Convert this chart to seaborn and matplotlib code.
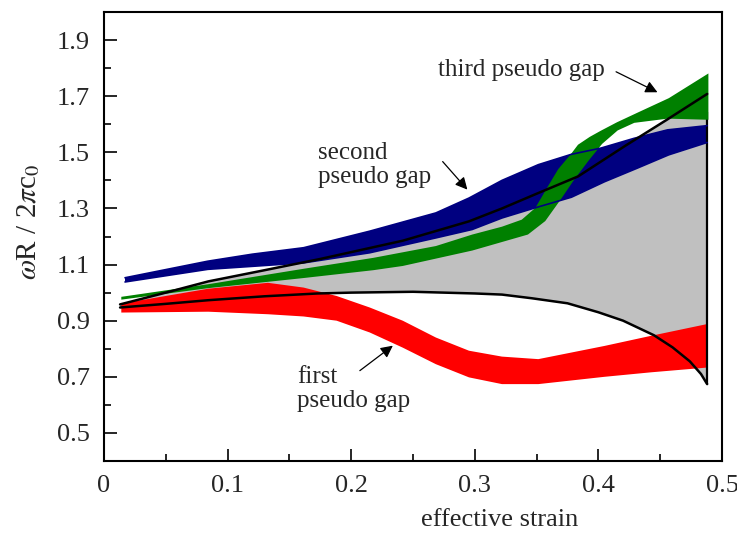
import numpy as np
import pandas as pd
import matplotlib
matplotlib.use('Agg')
import matplotlib.pyplot as plt
import seaborn as sns

# band edges (effective strain, omega R / 2 pi c0)
upper_x = [0.013, 0.05, 0.0844, 0.13, 0.175, 0.2417, 0.2953, 0.322, 0.3514, 0.3835, 0.422, 0.455, 0.488]
upper_y = [0.958, 1.0, 1.04, 1.08, 1.12, 1.185, 1.254, 1.30, 1.355, 1.414, 1.524, 1.615, 1.708]

lower_x = [0.013, 0.05, 0.0844, 0.13, 0.173, 0.2, 0.25, 0.3, 0.322, 0.346, 0.375, 0.40, 0.42, 0.445, 0.46, 0.474, 0.483, 0.488]
lower_y = [0.947, 0.96, 0.973, 0.987, 0.997, 1.0, 1.003, 0.997, 0.993, 0.98, 0.962, 0.93, 0.90, 0.848, 0.805, 0.755, 0.71, 0.674]

red_top_x = [0.014, 0.0844, 0.1326, 0.1615, 0.1882, 0.215, 0.2417, 0.2685, 0.2953, 0.322, 0.3514, 0.4049, 0.4425, 0.488]
red_top_y = [0.961, 1.014, 1.035, 1.018, 0.988, 0.947, 0.90, 0.84, 0.793, 0.772, 0.763, 0.81, 0.846, 0.888]
red_bot_x = [0.014, 0.0844, 0.1326, 0.1615, 0.1882, 0.215, 0.2417, 0.2685, 0.2953, 0.322, 0.3514, 0.4049, 0.4425, 0.488]
red_bot_y = [0.929, 0.932, 0.923, 0.915, 0.90, 0.858, 0.804, 0.745, 0.698, 0.674, 0.674, 0.70, 0.716, 0.733]

blue_top_x = [0.017, 0.084, 0.12, 0.1615, 0.215, 0.2685, 0.2953, 0.322, 0.3514, 0.3782, 0.402, 0.429, 0.456, 0.488]
blue_top_y = [1.053, 1.112, 1.137, 1.16, 1.219, 1.284, 1.337, 1.40, 1.456, 1.493, 1.515, 1.55, 1.58, 1.595]
blue_bot_x = [0.017, 0.084, 0.1615, 0.215, 0.2685, 0.2979, 0.322, 0.3487, 0.3782, 0.4049, 0.4317, 0.4569, 0.488]
blue_bot_y = [1.038, 1.083, 1.106, 1.142, 1.195, 1.225, 1.266, 1.302, 1.34, 1.395, 1.444, 1.491, 1.535]

green_top_x = [0.014, 0.0844, 0.1615, 0.218, 0.2685, 0.298, 0.322, 0.338, 0.349, 0.358, 0.3675, 0.378, 0.3835, 0.393, 0.402, 0.415, 0.432, 0.457, 0.489]
green_top_y = [0.985, 1.03, 1.085, 1.124, 1.166, 1.207, 1.235, 1.26, 1.302, 1.37, 1.44, 1.495, 1.527, 1.555, 1.577, 1.607, 1.642, 1.693, 1.781]
green_bot_x = [0.014, 0.0844, 0.1615, 0.218, 0.2417, 0.298, 0.343, 0.357, 0.37, 0.38, 0.392, 0.403, 0.4156, 0.429, 0.456, 0.489]
green_bot_y = [0.975, 1.016, 1.052, 1.08, 1.095, 1.15, 1.207, 1.255, 1.335, 1.40, 1.47, 1.53, 1.578, 1.605, 1.62, 1.616]

x_ticks = [0, 0.1, 0.2, 0.3, 0.4, 0.5]
x_labels = ['0', '0.1', '0.2', '0.3', '0.4', '0.5']
y_ticks = [0.5, 0.7, 0.9, 1.1, 1.3, 1.5, 1.7, 1.9]

sns.set_theme(style='white')
plt.rcParams['font.family'] = ['Liberation Serif', 'DejaVu Serif']
plt.rcParams['mathtext.fontset'] = 'stix'

fig = plt.figure(figsize=(7.37, 5.35), dpi=100)
ax = fig.add_axes([104 / 737, 74 / 535, 618 / 737, 449 / 535])


def band(tx, ty, bx, by, color, z):
    ax.fill(list(tx) + list(bx[::-1]), list(ty) + list(by[::-1]), color=color, lw=0, zorder=z)


# gray region between the two black curves
band(upper_x, upper_y, lower_x, lower_y, '#c0c0c0', 1)
band(red_top_x, red_top_y, red_bot_x, red_bot_y, '#ff0000', 2)
band(blue_top_x, blue_top_y, blue_bot_x, blue_bot_y, '#000080', 3)
ax.vlines(upper_x[-1], lower_y[-1], 1.645, color='black', lw=1.6, zorder=3.5)
band(green_top_x, green_top_y, green_bot_x, green_bot_y, '#008000', 4)
# blue edges stay visible over the green crossing
ax.plot(blue_top_x, blue_top_y, color='#000080', lw=1.2, zorder=5)
ax.plot(blue_bot_x, blue_bot_y, color='#000080', lw=1.2, zorder=5)

sns.lineplot(x=upper_x, y=upper_y, color='black', lw=1.8, sort=False, estimator=None, ax=ax, zorder=6)
sns.lineplot(x=lower_x, y=lower_y, color='black', lw=1.8, sort=False, estimator=None, ax=ax, zorder=6)

arrow = dict(arrowstyle='-|>', color='black', lw=0.9, mutation_scale=18, shrinkA=0, shrinkB=0)
ax.text(0.27, 1.794, 'third pseudo gap', fontsize=18, ha='left', va='center')
ax.annotate('', xy=(0.4478, 1.714), xytext=(0.4143, 1.787), arrowprops=arrow)
ax.text(0.1735, 1.455, 'second\npseudo gap', fontsize=18, ha='left', va='center', linespacing=1.15)
ax.annotate('', xy=(0.294, 1.367), xytext=(0.274, 1.467), arrowprops=arrow)
ax.text(0.156, 0.657, 'first\npseudo gap', fontsize=18, ha='left', va='center', linespacing=1.15)
ax.annotate('', xy=(0.2337, 0.811), xytext=(0.207, 0.722), arrowprops=arrow)

ax.set_xlim(0, 0.5)
ax.set_ylim(0.4, 2.0)
ax.set_xticks(x_ticks)
ax.set_xticklabels(x_labels)
ax.set_xticks([0.05, 0.15, 0.25, 0.35, 0.45], minor=True)
ax.set_yticks(y_ticks)
ax.set_yticklabels(['%.1f' % v for v in y_ticks])
ax.set_yticks([0.4, 0.6, 0.8, 1.0, 1.2, 1.4, 1.6, 1.8], minor=True)
ax.tick_params(which='major', direction='in', length=9, width=1.4, labelsize=19, pad=10,
               bottom=True, left=True, top=False, right=False)
ax.tick_params(which='minor', direction='in', length=5, width=1.4,
               bottom=True, left=True, top=False, right=False)
for s in ax.spines.values():
    s.set_linewidth(1.5)
    s.set_color('black')

ax.set_xlabel('effective strain', fontsize=19)
ax.xaxis.set_label_coords(0.64, -0.107)
ax.set_ylabel(r'$\omega$R / 2$\pi$c$_0$', fontsize=21)
ax.yaxis.set_label_coords(-0.10, 0.532)

fig.savefig('out.png', dpi=100)
